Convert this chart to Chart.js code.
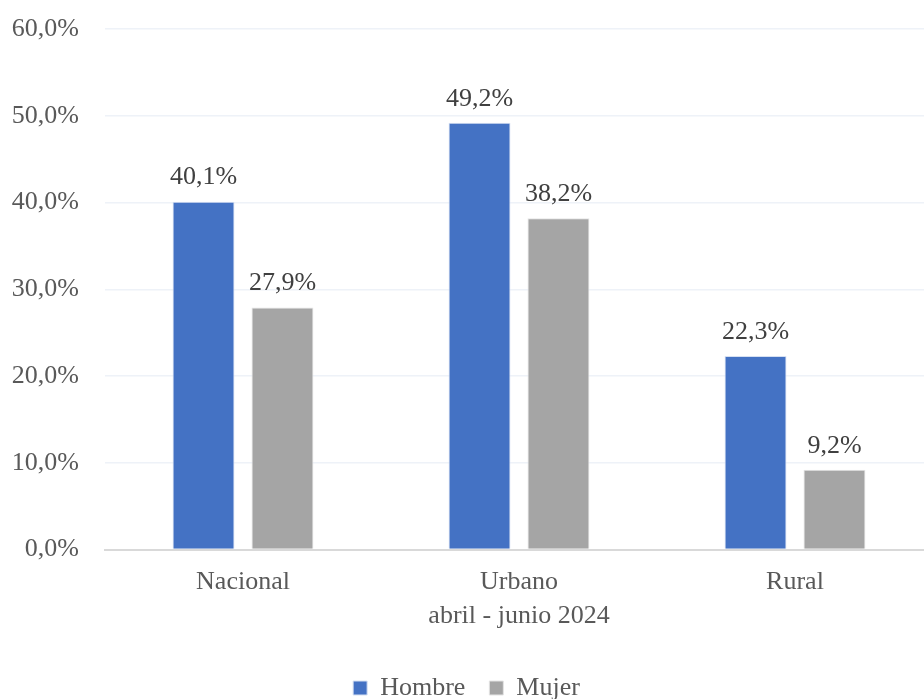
<!DOCTYPE html>
<html>
<head>
<meta charset="utf-8">
<script src="https://cdn.jsdelivr.net/npm/chart.js@4"></script>
<style>
  html, body { margin: 0; padding: 0; background: #fff; overflow: hidden; }
  #wrap { width: 940px; height: 711px; }
</style>
</head>
<body>
<div id="wrap"><canvas id="grafico"></canvas></div>
<script>
// datos
const categorias = ['Nacional', 'Urbano', 'Rural'];
const hombre = [40.1, 49.2, 22.3];
const mujer = [27.9, 38.2, 9.2];
const tituloX = 'abril - junio 2024';

const fuente = 'Liberation Serif, Times New Roman, serif';

function pct(v) {
    return v.toFixed(1).replace('.', ',') + '%';
}

// etiquetas encima de las barras
const etiquetas = {
    id: 'etiquetas',
    afterDatasetsDraw(chart) {
        const ctx = chart.ctx;
        ctx.save();
        ctx.font = '26px ' + fuente;
        ctx.fillStyle = '#404040';
        ctx.textAlign = 'center';
        ctx.textBaseline = 'bottom';
        chart.data.datasets.forEach((ds, i) => {
            chart.getDatasetMeta(i).data.forEach((bar, j) => {
                ctx.fillText(pct(ds.data[j]), bar.x, bar.y - 11);
            });
        });
        ctx.restore();
    }
};

new Chart(document.getElementById('grafico'), {
    type: 'bar',
    data: {
        labels: categorias,
        datasets: [{
            label: 'Hombre',
            data: hombre,
            backgroundColor: '#4472C4',
            borderColor: '#D6E0F2',
            borderWidth: 1
        }, {
            label: 'Mujer',
            data: mujer,
            backgroundColor: '#A5A5A5',
            borderColor: '#E4E4E4',
            borderWidth: 1
        }]
    },
    options: {
        responsive: true,
        maintainAspectRatio: false,
        animation: false,
        categoryPercentage: 0.572,
        barPercentage: 0.785,
        layout: { padding: { top: 29, left: 0, right: 7, bottom: 0 } },
        scales: {
            y: {
                min: 0,
                max: 60,
                afterFit(scale) { scale.width = 105; },
                border: { display: false },
                grid: {
                    color: '#EEF2F8',
                    lineWidth: 1.5,
                    drawTicks: true,
                    tickLength: 26,
                    tickColor: 'transparent'
                },
                ticks: {
                    stepSize: 10,
                    padding: 0,
                    color: '#595959',
                    font: { family: fuente, size: 26 },
                    callback: v => pct(v)
                }
            },
            x: {
                border: { color: '#D9D9D9', width: 2 },
                grid: { display: false, drawTicks: false },
                ticks: {
                    padding: 17,
                    color: '#595959',
                    font: { family: fuente, size: 26 }
                },
                title: {
                    display: true,
                    text: tituloX,
                    color: '#595959',
                    font: { family: fuente, size: 26, lineHeight: 1.2 },
                    padding: { top: -14, bottom: 19 }
                }
            }
        },
        plugins: {
            tooltip: { enabled: false },
            legend: {
                position: 'bottom',
                labels: {
                    boxWidth: 14,
                    boxHeight: 14,
                    padding: 24,
                    color: '#595959',
                    font: { family: fuente, size: 26 }
                }
            }
        }
    },
    plugins: [etiquetas]
});
</script>
</body>
</html>
